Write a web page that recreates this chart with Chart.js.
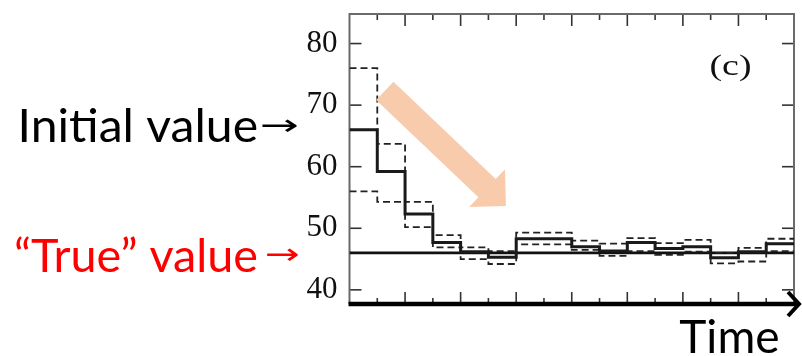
<!DOCTYPE html>
<html><head><meta charset="utf-8">
<script src="https://cdn.jsdelivr.net/npm/chart.js@4.4.1/dist/chart.umd.min.js"></script>
<style>html,body{margin:0;padding:0;background:#fff;}#wrap{width:802px;height:356px;position:relative;}</style>
</head><body><div id="wrap"><canvas id="c" width="802" height="356"></canvas></div>
<script>
// ---- data ----
const timeSteps = [0,1,2,3,4,5,6,7,8,9,10,11,12,13,14,15];
const estimate   = [66.0, 59.2, 52.3, 47.7, 46.2, 45.3, 48.3, 48.3, 47.0, 46.3, 47.7, 46.7, 47.0, 45.2, 46.2, 47.5];
const upperBound = [76.0, 63.7, 54.3, 48.9, 46.9, 46.3, 49.3, 49.3, 48.0, 47.5, 48.4, 47.6, 48.1, 46.0, 46.8, 48.3];
const lowerBound = [56.0, 54.3, 50.2, 46.9, 45.0, 44.2, 47.4, 47.4, 46.5, 45.5, 46.3, 45.7, 46.2, 44.3, 44.6, 46.3];
const trueValue = [46.0, 46.0];
const yTickLabels = [40, 50, 60, 70, 80];
const panelLabel = '(c)';
const initialLabel = 'Initial value';
const trueLabel = '\u201CTrue\u201D value';
const timeLabel = 'Time';
const arrowGlyph = '\u2192';

function stepPoints(vals){
  const pts = vals.map((v,i)=>({x:timeSteps[i], y:v}));
  pts.push({x:timeSteps[timeSteps.length-1]+1, y:vals[vals.length-1]});
  return pts;
}
const nSteps = timeSteps.length;

function drawInBox(ctx, str, font, color, x0, x1, y0, y1){
  ctx.save();
  ctx.font = font; ctx.fillStyle = color; ctx.textAlign='left'; ctx.textBaseline='alphabetic';
  const m = ctx.measureText(str);
  const il = -m.actualBoundingBoxLeft, ir = m.actualBoundingBoxRight;
  const it = -m.actualBoundingBoxAscent, ib = m.actualBoundingBoxDescent;
  const sx = (x1-x0)/(ir-il), sy = (y1-y0)/(ib-it);
  ctx.translate(x0 - sx*il, y0 - sy*it);
  ctx.scale(sx, sy);
  ctx.fillText(str, 0, 0);
  ctx.restore();
}
function drawFitW(ctx, str, font, color, x0, x1, baseline){
  ctx.save();
  ctx.font = font; ctx.fillStyle = color; ctx.textAlign='left'; ctx.textBaseline='alphabetic';
  const m = ctx.measureText(str);
  const il = -m.actualBoundingBoxLeft, ir = m.actualBoundingBoxRight;
  const sx = (x1-x0)/(ir-il);
  ctx.translate(x0 - sx*il, baseline);
  ctx.scale(sx, 1);
  ctx.fillText(str, 0, 0);
  ctx.restore();
}
function seg(ctx,x1,y1,x2,y2){ctx.beginPath();ctx.moveTo(x1,y1);ctx.lineTo(x2,y2);ctx.stroke();}

const framePlugin = {
  id:'frame',
  beforeDatasetsDraw(chart){
    const {ctx, chartArea:a} = chart; const xs = chart.scales.x, ys = chart.scales.y;
    ctx.save();
    ctx.strokeStyle = '#333'; ctx.lineWidth = 1.6; ctx.lineCap='butt';
    xs.ticks.forEach(t=>{
      if (t.value <= xs.min || t.value >= xs.max) return;
      const px = xs.getPixelForValue(t.value);
      const L = (t.value % 2 === 0) ? 12 : 6;
      seg(ctx, px, a.bottom, px, a.bottom-L);
      seg(ctx, px, a.top, px, a.top+L);
    });
    ys.ticks.forEach(t=>{
      if (t.value % 5 !== 0) return;
      const py = ys.getPixelForValue(t.value);
      const L = (t.value % 10 === 0) ? 12 : 6;
      seg(ctx, a.left, py, a.left+L, py);
      seg(ctx, a.right, py, a.right-L, py);
    });
    ctx.strokeStyle = '#6a6a6a'; ctx.lineWidth = 2;
    ctx.beginPath(); ctx.moveTo(a.left, a.bottom); ctx.lineTo(a.left, a.top); ctx.lineTo(a.right, a.top); ctx.lineTo(a.right, a.bottom); ctx.stroke();
    ctx.restore();
  },
  afterDatasetsDraw(chart){
    const {ctx, chartArea:a} = chart; const xs = chart.scales.x, ys = chart.scales.y;
    ctx.save();
    // peach arrow
    const sx = xs.getPixelForValue(1.27), sy = ys.getPixelForValue(72.3);
    const tx = xs.getPixelForValue(5.63), ty = ys.getPixelForValue(53.6);
    const dx = tx-sx, dy = ty-sy, len = Math.hypot(dx,dy);
    const ux = dx/len, uy = dy/len, nx = -uy, ny = ux;
    const sw = 12.6, hw = 26, hl = 26;
    const bx = tx - ux*hl, by = ty - uy*hl;
    ctx.fillStyle = '#F8CBAD';
    ctx.beginPath();
    ctx.moveTo(sx + nx*sw, sy + ny*sw);
    ctx.lineTo(bx + nx*sw, by + ny*sw);
    ctx.lineTo(bx + nx*hw, by + ny*hw);
    ctx.lineTo(tx, ty);
    ctx.lineTo(bx - nx*hw, by - ny*hw);
    ctx.lineTo(bx - nx*sw, by - ny*sw);
    ctx.lineTo(sx - nx*sw, sy - ny*sw);
    ctx.closePath(); ctx.fill();
    // thick time axis with arrow
    ctx.strokeStyle = '#000'; ctx.lineWidth = 4.5; ctx.lineCap='butt';
    seg(ctx, a.left-1, a.bottom, 797, a.bottom);
    ctx.lineWidth = 4; ctx.lineJoin='miter';
    ctx.beginPath(); ctx.moveTo(788, a.bottom-12); ctx.lineTo(799, a.bottom); ctx.lineTo(788, a.bottom+12); ctx.stroke();
    ctx.restore();
  },
  afterDraw(chart){
    const {ctx} = chart;
    const sans = '46px Lato, "DejaVu Sans", sans-serif';
    drawFitW(ctx, initialLabel, sans, '#000', 21.7, 256.7, 141.7);
    drawInBox(ctx, arrowGlyph, '48px "DejaVu Sans"', '#000', 262, 297, 119.5, 133);
    drawFitW(ctx, trueLabel, sans, '#FF0000', 16, 256.7, 271.7);
    drawInBox(ctx, arrowGlyph, '48px "DejaVu Sans"', '#FF0000', 266.7, 298, 248, 261.5);
    drawFitW(ctx, timeLabel, sans, '#000', 679.3, 778.3, 352.7);
    drawInBox(ctx, panelLabel, '32px "Liberation Serif"', '#111', 710.7, 750.7, 54, 81);
  }
};

new Chart(document.getElementById('c'), {
  type:'line',
  data:{
    datasets:[
      {label:'estimate', data:stepPoints(estimate), stepped:'before', borderColor:'#1a1a1a', borderWidth:3, pointRadius:0, fill:false, borderJoinStyle:'miter', order:1},
      {label:'upper', data:stepPoints(upperBound), stepped:'before', borderColor:'#222', borderWidth:1.8, borderDash:[7,4], pointRadius:0, fill:false, borderJoinStyle:'miter', order:2},
      {label:'lower', data:stepPoints(lowerBound), stepped:'before', borderColor:'#222', borderWidth:1.8, borderDash:[7,4], pointRadius:0, fill:false, borderJoinStyle:'miter', order:3},
      {label:'true', data:[{x:0,y:trueValue[0]},{x:nSteps,y:trueValue[1]}], borderColor:'#111', borderWidth:2.6, pointRadius:0, fill:false, order:4}
    ]
  },
  options:{
    responsive:false, animation:false, devicePixelRatio:1,
    layout:{padding:{top:14, right:8, left:0, bottom:0}},
    plugins:{legend:{display:false}, tooltip:{enabled:false}},
    scales:{
      x:{type:'linear', min:0, max:nSteps, ticks:{display:false, stepSize:1}, grid:{display:false}, border:{display:false},
        afterFit(s){ s.height = 52; s.paddingLeft=0; s.paddingRight=0; }},
      y:{type:'linear', min:37.7, max:84.8,
        ticks:{stepSize:5, includeBounds:false, padding:4, color:'#111', font:{family:'"Liberation Serif", serif', size:31},
          callback:(v)=> yTickLabels.includes(v) ? String(v) : ''},
        grid:{display:false}, border:{display:false},
        afterFit(s){ s.width = 349.5; s.paddingTop=0; s.paddingBottom=0; }}
    }
  },
  plugins:[framePlugin]
});
</script></body></html>
